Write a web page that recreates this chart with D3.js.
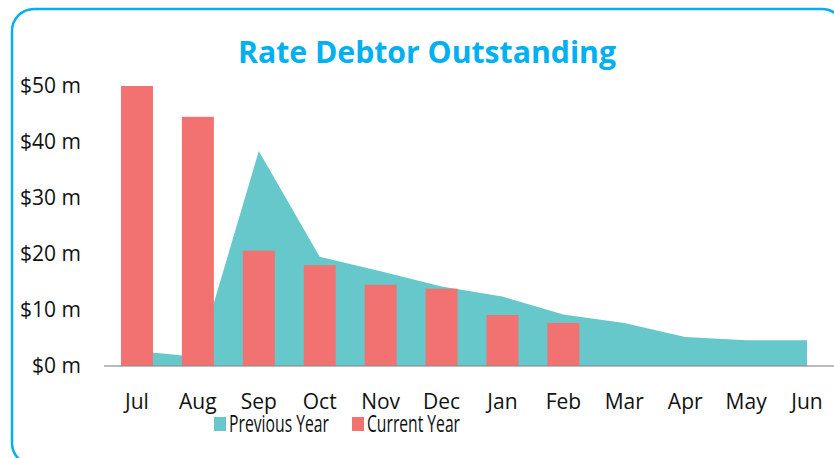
<!DOCTYPE html>
<html>
<head>
<meta charset="utf-8">
<script src="https://cdn.jsdelivr.net/npm/d3@7"></script>
<style>
  html, body { margin: 0; padding: 0; background: #fff; overflow: hidden; }
  svg { display: block; font-family: "Open Sans", "Noto Sans", sans-serif; }
</style>
</head>
<body>
<div id="chart"></div>
<script>
// chart values ($ millions)
const months = ["Jul", "Aug", "Sep", "Oct", "Nov", "Dec", "Jan", "Feb", "Mar", "Apr", "May", "Jun"];
const previousYear = [2.7, 1.6, 38.4, 19.5, 16.9, 14.2, 12.4, 9.2, 7.7, 5.2, 4.6, 4.6];
const currentYear = [50.0, 44.5, 20.6, 18.0, 14.5, 13.8, 9.1, 7.7, null, null, null, null];
const yTicks = [0, 10, 20, 30, 40, 50];
const seriesNames = ["Previous Year", "Current Year"];

const W = 834, H = 458;
const TEAL = "#66C8CA", RED = "#F17271", BLUE = "#00B0F0";

const svg = d3.select("#chart").append("svg")
  .attr("width", W).attr("height", H);

// rounded frame, it runs past the right and bottom edges of the picture
svg.append("rect")
  .attr("x", 12).attr("y", 9).attr("width", 832).attr("height", 456)
  .attr("rx", 22).attr("ry", 22)
  .attr("fill", "none").attr("stroke", BLUE).attr("stroke-width", 2.5);

svg.append("text")
  .attr("x", 427).attr("y", 63).attr("text-anchor", "middle")
  .attr("fill", BLUE).attr("font-weight", "bold").attr("font-size", 30)
  .attr("textLength", 378).attr("lengthAdjust", "spacingAndGlyphs")
  .text("Rate Debtor Outstanding");

const x = d3.scaleBand().domain(months).range([106.5, 837.5]).padding(0);
const bw = x.bandwidth();
const cx = m => x(m) + bw / 2;
const y = d3.scaleLinear().domain([0, 50]).range([366, 86]);

// previous year as an area through the category centres
const area = d3.area()
  .defined(d => d.v != null)
  .x(d => cx(d.m)).y0(y(0)).y1(d => y(d.v));
svg.append("path")
  .datum(months.map((m, i) => ({ m, v: previousYear[i] })))
  .attr("fill", TEAL).attr("d", area);

// current year as bars on top
const barW = bw * 0.525;
svg.append("g").selectAll("rect")
  .data(months.map((m, i) => ({ m, v: currentYear[i] })).filter(d => d.v != null))
  .join("rect")
  .attr("x", d => cx(d.m) - barW / 2).attr("width", barW)
  .attr("y", d => y(d.v)).attr("height", d => y(0) - y(d.v))
  .attr("fill", RED);

// baseline
svg.append("line")
  .attr("x1", 104).attr("x2", W).attr("y1", y(0)).attr("y2", y(0))
  .attr("stroke", "#8f8f8f").attr("stroke-opacity", 0.8).attr("stroke-width", 1.5);

// y axis labels
const yAxis = svg.append("g").attr("transform", "translate(81,0)")
  .call(d3.axisLeft(y).tickValues(yTicks).tickSize(0).tickPadding(0).tickFormat(d => `$${d} m`));
yAxis.select(".domain").remove();
yAxis.selectAll("text").attr("font-size", 21).attr("fill", "#111")
  .attr("font-family", "'Open Sans', sans-serif");

// x axis labels
const xAxis = svg.append("g").attr("transform", `translate(0,${y(0)})`)
  .call(d3.axisBottom(x).tickSize(0).tickPadding(28));
xAxis.select(".domain").remove();
xAxis.selectAll("text").attr("font-size", 21).attr("fill", "#111")
  .attr("font-family", "'Open Sans', sans-serif");

// legend
const legend = svg.append("g");
const legendItems = [
  { name: seriesNames[0], color: TEAL, x: 214, len: 100 },
  { name: seriesNames[1], color: RED, x: 352, len: 93 }
];
legendItems.forEach(it => {
  legend.append("rect").attr("x", it.x).attr("y", 417).attr("width", 12).attr("height", 14)
    .attr("fill", it.color);
  legend.append("text").attr("x", it.x + 15).attr("y", 432)
    .attr("font-size", 23).attr("fill", "#111")
    .attr("textLength", it.len).attr("lengthAdjust", "spacingAndGlyphs")
    .text(it.name);
});
</script>
</body>
</html>
